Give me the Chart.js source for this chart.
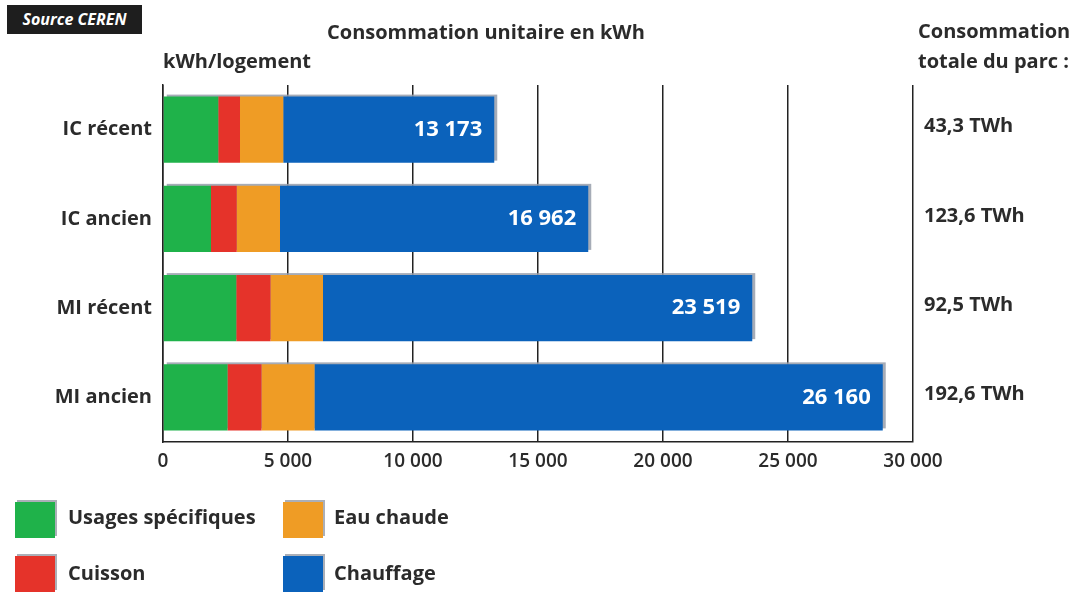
<!DOCTYPE html>
<html>
<head>
<meta charset="utf-8">
<script src="https://cdn.jsdelivr.net/npm/chart.js@4.4.1/dist/chart.umd.min.js"></script>
<style>
  html, body { margin: 0; padding: 0; background: #fff; }
  #wrap { position: relative; width: 1082px; height: 592px; overflow: hidden; font-family: "Open Sans", sans-serif; color: #2b2b2b; }
  #c { position: absolute; left: 0; top: 0; }
  .t { position: absolute; font-weight: 700; font-size: 20px; white-space: nowrap; color: #2b2b2b; }
  #src { position: absolute; left: 7px; top: 5px; width: 135px; height: 29px; background: #1e1e1e; color: #fff;
         font-style: italic; font-weight: 700; font-size: 16px; line-height: 29px; text-align: center; }
  .sw { position: absolute; width: 40px; height: 36px; box-shadow: 2px -2px 0 rgba(150,155,165,0.8); }
</style>
</head>
<body>
<div id="wrap">
  <canvas id="c" width="1082" height="592"></canvas>
  <div id="src">Source CEREN</div>
  <div class="t" style="left:327px; top:18px;">Consommation unitaire en kWh</div>
  <div class="t" style="left:163px; top:47px;">kWh/logement</div>
  <div class="t" style="left:918px; top:16px; line-height:30px;">Consommation<br>totale du parc :</div>
  <div id="legend"></div>
</div>
<script>
// ---- Data ----
const categories = ["IC récent", "IC ancien", "MI récent", "MI ancien"];
const usagesSpecifiques = [2210, 1920, 2930, 2580];
const cuisson = [870, 1030, 1370, 1360];
const eauChaude = [1730, 1730, 2100, 2120];
const chauffage = [8440, 12330, 17170, 22730];
const barLabels = ["13 173", "16 962", "23 519", "26 160"];
const totalParc = ["43,3 TWh", "123,6 TWh", "92,5 TWh", "192,6 TWh"];
const xTicks = [0, 5000, 10000, 15000, 20000, 25000, 30000];
const seriesNames = ["Usages spécifiques", "Cuisson", "Eau chaude", "Chauffage"];
const seriesColors = ["#1fb24a", "#e5332a", "#ef9c25", "#0b62bb"];

// ---- Legend (HTML) ----
const legendPos = [
  {sx: 15, sy: 502, tx: 68, ty: 503},
  {sx: 15, sy: 556, tx: 68, ty: 559},
  {sx: 283, sy: 502, tx: 334, ty: 503},
  {sx: 283, sy: 556, tx: 334, ty: 559}
];
const lg = document.getElementById('legend');
seriesNames.forEach((n, i) => {
  const p = legendPos[i];
  const s = document.createElement('div');
  s.className = 'sw';
  s.style.left = p.sx + 'px'; s.style.top = p.sy + 'px'; s.style.background = seriesColors[i];
  lg.appendChild(s);
  const t = document.createElement('div');
  t.className = 't';
  t.style.left = p.tx + 'px'; t.style.top = p.ty + 'px';
  t.textContent = n;
  lg.appendChild(t);
});

const fmt = v => String(v).replace(/\B(?=(\d{3})+(?!\d))/g, ' ');

// One grey shadow behind each whole stacked bar (offset right and up)
const shadowPlugin = {
  id: 'shadow',
  beforeDatasetsDraw(chart) {
    const ctx = chart.ctx;
    const first = chart.getDatasetMeta(0);
    const last = chart.getDatasetMeta(chart.data.datasets.length - 1);
    ctx.save();
    ctx.fillStyle = 'rgba(150,158,170,0.85)';
    last.data.forEach((el, i) => {
      const start = first.data[i].base;
      const h = el.height;
      ctx.fillRect(start + 3, el.y - h / 2 - 2, el.x - start, h);
    });
    ctx.restore();
  }
};

const labelPlugin = {
  id: 'labels',
  afterDatasetsDraw(chart) {
    const ctx = chart.ctx;
    const last = chart.getDatasetMeta(chart.data.datasets.length - 1);
    const yScale = chart.scales.y;
    ctx.save();
    ctx.textBaseline = 'middle';
    ctx.font = '700 22px "Open Sans"';
    ctx.fillStyle = '#ffffff';
    ctx.textAlign = 'right';
    last.data.forEach((el, i) => {
      ctx.fillText(barLabels[i], el.x - 12, el.y);
    });
    ctx.fillStyle = '#2b2b2b';
    ctx.textAlign = 'left';
    ctx.font = '700 20px "Open Sans"';
    categories.forEach((c, i) => {
      ctx.fillText(totalParc[i], 924, yScale.getPixelForValue(i) - 3);
    });
    ctx.restore();
  }
};

new Chart(document.getElementById('c'), {
  type: 'bar',
  data: {
    labels: categories,
    datasets: [
      {label: seriesNames[0], data: usagesSpecifiques, backgroundColor: seriesColors[0]},
      {label: seriesNames[1], data: cuisson, backgroundColor: seriesColors[1]},
      {label: seriesNames[2], data: eauChaude, backgroundColor: seriesColors[2]},
      {label: seriesNames[3], data: chauffage, backgroundColor: seriesColors[3]}
    ]
  },
  options: {
    indexAxis: 'y',
    responsive: false,
    animation: false,
    maintainAspectRatio: false,
    layout: { padding: { left: 0, top: 85, right: 169, bottom: 110 } },
    datasets: { bar: { categoryPercentage: 1, barPercentage: 0.74, borderWidth: 0, inflateAmount: 0 } },
    plugins: { legend: { display: false }, tooltip: { enabled: false } },
    scales: {
      x: {
        stacked: true,
        min: 0, max: 30000,
        afterBuildTicks(scale) { scale.ticks = xTicks.map(v => ({value: v})); },
        afterFit(scale) { scale.height = 40; },
        grid: { color: '#222', lineWidth: 1.5, drawTicks: false },
        border: { display: true, color: '#222', width: 1.5 },
        ticks: { padding: 8, color: '#2b2b2b', font: { family: 'Open Sans', size: 19, weight: '600' },
                 callback: v => fmt(v), maxRotation: 0, autoSkip: false }
      },
      y: {
        stacked: true,
        afterFit(scale) { scale.width = 163; },
        grid: { display: false, drawTicks: false },
        border: { display: true, color: '#222', width: 1.5 },
        ticks: { padding: 11, color: '#2b2b2b', font: { family: 'Open Sans', size: 20, weight: '700' } }
      }
    }
  },
  plugins: [shadowPlugin, labelPlugin]
});
</script>
</body>
</html>
